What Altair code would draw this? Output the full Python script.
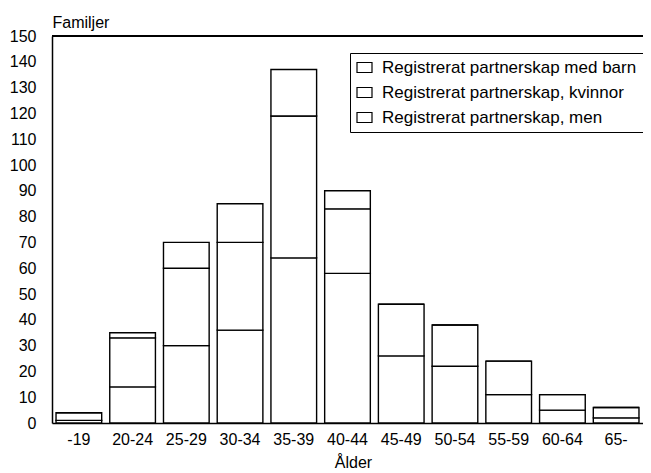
import altair as alt
import pandas as pd

categories = ["-19", "20-24", "25-29", "30-34", "35-39", "40-44",
              "45-49", "50-54", "55-59", "60-64", "65-"]
men = [1, 14, 30, 36, 64, 58, 26, 22, 11, 5, 2]
kvinnor = [3, 19, 30, 34, 55, 25, 20, 16, 13, 6, 4]
med_barn = [0, 2, 10, 15, 18, 7, 0, 0, 0, 0, 0]
series_names = ["Registrerat partnerskap med barn",
                "Registrerat partnerskap, kvinnor",
                "Registrerat partnerskap, men"]
y_ticks = list(range(0, 151, 10))

rows = []
for i, c in enumerate(categories):
    rows.append({"alder": c, "serie": series_names[2], "antal": men[i], "ordning": 0})
    rows.append({"alder": c, "serie": series_names[1], "antal": kvinnor[i], "ordning": 1})
    rows.append({"alder": c, "serie": series_names[0], "antal": med_barn[i], "ordning": 2})
df = pd.DataFrame(rows)

FONT = "Liberation Sans, Arial, sans-serif"
W, H = 591, 387

bars = alt.Chart(df).mark_bar(stroke="black", strokeWidth=1.4).encode(
    x=alt.X("alder:N", sort=categories,
            scale=alt.Scale(paddingInner=0.15, paddingOuter=0.075),
            axis=alt.Axis(title="Ålder", labelAngle=0, ticks=False,
                          domainColor="black", domainWidth=1.5,
                          labelPadding=8, labelFontSize=16, labelFont=FONT,
                          labelColor="black", titleFont=FONT, titleFontSize=16,
                          titleFontWeight="normal", titleColor="black",
                          titleX=301, titleAlign="center",
                          titleY=44, titleBaseline="alphabetic")),
    y=alt.Y("antal:Q", stack="zero",
            scale=alt.Scale(domain=[0, 150], nice=False),
            axis=alt.Axis(values=y_ticks, title="Familjer", titleAngle=0,
                          titleAlign="left", titleX=0, titleY=-9,
                          titleBaseline="alphabetic", titleFont=FONT,
                          titleFontSize=16, titleFontWeight="normal",
                          titleColor="black", grid=False, ticks=False,
                          domainColor="black", domainWidth=1.5,
                          labelPadding=16, labelFontSize=16, labelFont=FONT,
                          labelColor="black")),
    color=alt.Color("serie:N",
                    scale=alt.Scale(domain=series_names, range=["white"] * 3),
                    legend=alt.Legend(
                        title=None, orient="none", legendX=298, legendY=17,
                        strokeColor="black", fillColor="white", padding=6,
                        rowPadding=7, labelFont=FONT, labelFontSize=17,
                        labelColor="black", labelOffset=9, labelLimit=400,
                        symbolType="M-1,-0.667H1V0.667H-1Z", symbolSize=225,
                        symbolStrokeColor="black", symbolFillColor="white",
                        symbolStrokeWidth=1.2)),
    order=alt.Order("ordning:Q", sort="ascending"),
)

frame_top = alt.Chart(df).mark_rule(color="black", strokeWidth=1.5).encode(
    x=alt.value(0), x2=alt.value(W), y=alt.value(0)
)

chart = alt.layer(bars, frame_top).properties(
    width=W, height=H,
    autosize=alt.AutoSizeParams(type="none"),
    padding={"left": 44, "top": 28, "right": 0, "bottom": 46},
).configure_view(stroke=None)

chart.save("out.html", embed_options={"renderer": "svg", "actions": False})
